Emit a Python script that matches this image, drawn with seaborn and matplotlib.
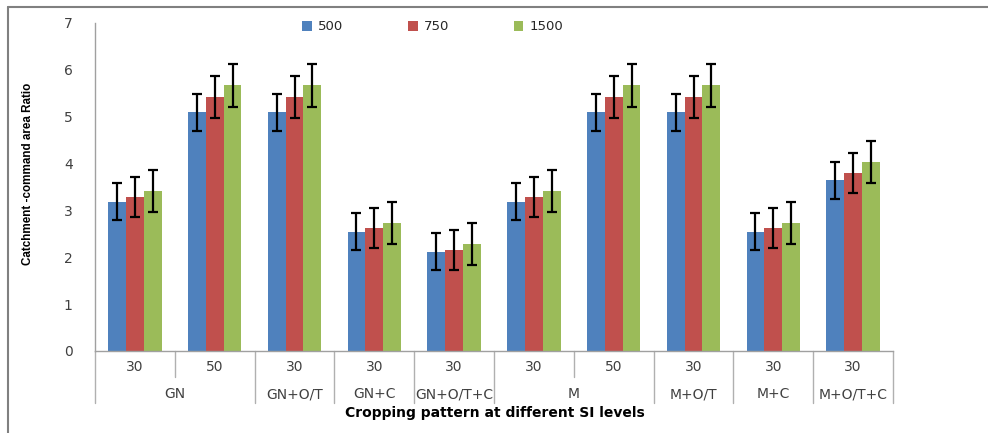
import seaborn as sns
import matplotlib.pyplot as plt
import pandas as pd
from matplotlib.patches import Patch
from matplotlib.lines import Line2D
import matplotlib.transforms as mtransforms

# Data
patterns = ["GN", "GN", "GN+O/T", "GN+C", "GN+O/T+C", "M", "M", "M+O/T", "M+C", "M+O/T+C"]
si_levels = ["30", "50", "30", "30", "30", "30", "50", "30", "30", "30"]
series = ["500", "750", "1500"]
vals_500 = [3.19, 5.09, 5.09, 2.55, 2.12, 3.19, 5.09, 5.09, 2.55, 3.64]
vals_750 = [3.29, 5.42, 5.42, 2.62, 2.16, 3.29, 5.42, 5.42, 2.62, 3.80]
vals_1500 = [3.41, 5.67, 5.67, 2.74, 2.28, 3.41, 5.67, 5.67, 2.74, 4.03]
err_500 = [0.40, 0.40, 0.40, 0.40, 0.40, 0.40, 0.40, 0.40, 0.40, 0.40]
err_750 = [0.43, 0.44, 0.44, 0.43, 0.43, 0.43, 0.44, 0.44, 0.43, 0.43]
err_1500 = [0.45, 0.46, 0.46, 0.45, 0.45, 0.45, 0.46, 0.46, 0.45, 0.45]

colors = ["#4F81BD", "#C0504D", "#9BBB59"]

# Long-form frame for seaborn
cats = [f"{p} {s} {i}" for i, (p, s) in enumerate(zip(patterns, si_levels))]
rows = []
for name, vals in zip(series, [vals_500, vals_750, vals_1500]):
    for c, v in zip(cats, vals):
        rows.append({"cat": c, "series": name, "value": v})
df = pd.DataFrame(rows)

sns.set_style("white")
fig = plt.figure(figsize=(9.88, 4.33), dpi=100)
ax = fig.add_axes([95 / 988, 1 - 351 / 433, (893 - 95) / 988, 328 / 433])

sns.barplot(data=df, x="cat", y="value", hue="series", order=cats, hue_order=series,
            palette=colors, width=0.67, gap=0, saturation=1, errorbar=None,
            edgecolor="none", legend=False, ax=ax)

# Error bars on each bar
for cont, errs in zip(ax.containers, [err_500, err_750, err_1500]):
    xs = [p.get_x() + p.get_width() / 2 for p in cont.patches]
    ys = [p.get_height() for p in cont.patches]
    ax.errorbar(xs, ys, yerr=errs, fmt="none", ecolor="black", elinewidth=1.6,
                capsize=3.7, capthick=1.6, zorder=5)

ax.set_xlim(-0.5, len(cats) - 0.5)
ax.set_ylim(0, 7)
ax.set_yticks(range(8))
ax.tick_params(axis="y", direction="out", length=6, width=1, color="#A0A0A0",
               labelsize=10, labelcolor="#404040", pad=10)
ax.set_xticks([])
ax.set_xlabel("")
ax.set_ylabel("")
for s in ["top", "right"]:
    ax.spines[s].set_visible(False)
for s in ["left", "bottom"]:
    ax.spines[s].set_color("#A0A0A0")
    ax.spines[s].set_linewidth(1)

# Two-level category axis
trans = mtransforms.blended_transform_factory(ax.transData, ax.transAxes)
for i, s in enumerate(si_levels):
    ax.text(i, -0.05, s, transform=trans, ha="center", va="center",
            fontsize=10, color="#404040")
groups = []
for i, p in enumerate(patterns):
    if groups and groups[-1][0] == p:
        groups[-1][2] = i
    else:
        groups.append([p, i, i])
for p, a, b in groups:
    ax.text((a + b) / 2, -0.132, p, transform=trans, ha="center", va="center",
            fontsize=10, color="#404040")
    for j in range(a + 1, b + 1):
        ax.add_line(Line2D([j - 0.5, j - 0.5], [0, -0.08], transform=trans,
                           color="#B0B0B0", lw=1, clip_on=False))
    ax.add_line(Line2D([a - 0.5, a - 0.5], [0, -0.16], transform=trans,
                       color="#B0B0B0", lw=1, clip_on=False))
ax.add_line(Line2D([len(cats) - 0.5, len(cats) - 0.5], [0, -0.16], transform=trans,
                   color="#B0B0B0", lw=1, clip_on=False))

fig.text(0.501, 1 - 413 / 433, "Cropping pattern at different SI levels",
         ha="center", va="center", fontsize=10, fontweight="bold", color="black")
fig.text(28 / 988, 1 - 174 / 433, "Catchment -command area Ratio", rotation=90,
         ha="center", va="center", fontsize=8.4, fontweight="bold",
         family=["Liberation Sans Narrow", "Liberation Sans"], color="black")

# Legend across the top
handles = [Patch(facecolor=c, edgecolor="none") for c in colors]
fig.legend(handles, series, loc="center left", bbox_to_anchor=(302 / 988, 1 - 27 / 433),
           ncol=3, frameon=False, fontsize=9.5, handlelength=0.75, handleheight=0.75,
           handletextpad=0.45, columnspacing=4.9, borderaxespad=0, borderpad=0)

# Page frame lines
fig.add_artist(Line2D([8 / 988, 8 / 988], [0, 1 - 7 / 433], transform=fig.transFigure,
                      color="#808080", lw=1.5))
fig.add_artist(Line2D([8 / 988, 1], [1 - 7 / 433, 1 - 7 / 433], transform=fig.transFigure,
                      color="#808080", lw=1.5))

fig.savefig("out.png", dpi=100)
